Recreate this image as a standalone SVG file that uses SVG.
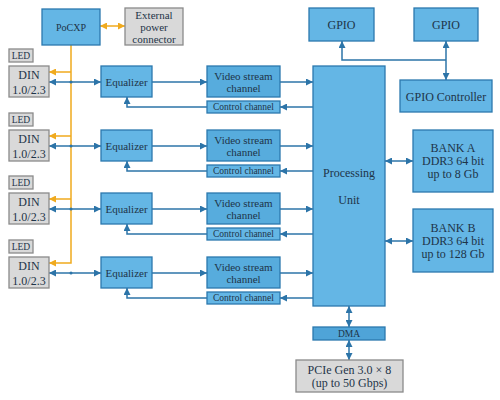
<svg xmlns="http://www.w3.org/2000/svg" width="500" height="400" viewBox="0 0 500 400">
<defs>
<style>
text{font-family:"Liberation Serif","DejaVu Serif",serif;fill:#1E3448;text-anchor:middle;dominant-baseline:central}
.b{fill:#64B6E5;stroke:#2B79AE;stroke-width:1.3}
.v{fill:#57ACDD;stroke:#2B79AE;stroke-width:1.3}
.d{fill:#4FA4D8;stroke:#2B79AE;stroke-width:1.3}
.g{fill:#D9D9D9;stroke:#8A8A8A;stroke-width:1.3}
.bl{fill:none;stroke:#2C74A8;stroke-width:1.5}
.yl{fill:none;stroke:#F0AA1E;stroke-width:1.5}
.f12{font-size:12px}.f11{font-size:11px}.f10{font-size:10px}.f9{font-size:9.5px}
</style>
<marker id="ab" viewBox="0 0 10 10" refX="10" refY="5" markerWidth="7" markerHeight="7" markerUnits="userSpaceOnUse" orient="auto-start-reverse"><path d="M0,0 L10,5 L0,10 Z" fill="#2C74A8"/></marker>
<marker id="ay" viewBox="0 0 10 10" refX="10" refY="5" markerWidth="7" markerHeight="7" markerUnits="userSpaceOnUse" orient="auto-start-reverse"><path d="M0,0 L10,5 L0,10 Z" fill="#F0AA1E"/></marker>
</defs>
<rect width="500" height="400" fill="#fff"/>

<g id="connectors">
<!-- yellow power -->
<line class="yl" x1="100" y1="26" x2="125" y2="26" marker-start="url(#ay)" marker-end="url(#ay)"/>
<path class="yl" d="M71,45 V263 H49" marker-end="url(#ay)"/>
<line class="yl" x1="71" y1="72" x2="49" y2="72" marker-end="url(#ay)"/>
<line class="yl" x1="71" y1="136" x2="49" y2="136" marker-end="url(#ay)"/>
<line class="yl" x1="71" y1="199" x2="49" y2="199" marker-end="url(#ay)"/>
<!-- rows -->
<g id="row1c">
<line class="bl" x1="49" y1="82" x2="101" y2="82" marker-start="url(#ab)" marker-end="url(#ab)"/>
<circle cx="71" cy="82" r="1.5" fill="#2C74A8"/>
<line class="bl" x1="152" y1="82" x2="207" y2="82" marker-end="url(#ab)"/>
<line class="bl" x1="280" y1="82" x2="313" y2="82" marker-end="url(#ab)"/>
<line class="bl" x1="313" y1="107" x2="280" y2="107" marker-end="url(#ab)"/>
<path class="bl" d="M207,107 H127 V97" marker-end="url(#ab)"/>
</g>
<g id="row2c">
<line class="bl" x1="49" y1="146" x2="101" y2="146" marker-start="url(#ab)" marker-end="url(#ab)"/>
<circle cx="71" cy="146" r="1.5" fill="#2C74A8"/>
<line class="bl" x1="152" y1="146" x2="207" y2="146" marker-end="url(#ab)"/>
<line class="bl" x1="280" y1="146" x2="313" y2="146" marker-end="url(#ab)"/>
<line class="bl" x1="313" y1="171" x2="280" y2="171" marker-end="url(#ab)"/>
<path class="bl" d="M207,171 H127 V161" marker-end="url(#ab)"/>
</g>
<g id="row3c">
<line class="bl" x1="49" y1="209" x2="101" y2="209" marker-start="url(#ab)" marker-end="url(#ab)"/>
<circle cx="71" cy="209" r="1.5" fill="#2C74A8"/>
<line class="bl" x1="152" y1="209" x2="207" y2="209" marker-end="url(#ab)"/>
<line class="bl" x1="280" y1="209" x2="313" y2="209" marker-end="url(#ab)"/>
<line class="bl" x1="313" y1="234" x2="280" y2="234" marker-end="url(#ab)"/>
<path class="bl" d="M207,234 H127 V224" marker-end="url(#ab)"/>
</g>
<g id="row4c">
<line class="bl" x1="49" y1="273" x2="101" y2="273" marker-start="url(#ab)" marker-end="url(#ab)"/>
<circle cx="71" cy="273" r="1.5" fill="#2C74A8"/>
<line class="bl" x1="152" y1="273" x2="207" y2="273" marker-end="url(#ab)"/>
<line class="bl" x1="280" y1="273" x2="313" y2="273" marker-end="url(#ab)"/>
<line class="bl" x1="313" y1="298" x2="280" y2="298" marker-end="url(#ab)"/>
<path class="bl" d="M207,298 H127 V288" marker-end="url(#ab)"/>
</g>
<!-- GPIO -->
<path class="bl" d="M446,60 H342 V41" marker-end="url(#ab)"/>
<line class="bl" x1="446" y1="41" x2="446" y2="80" marker-start="url(#ab)" marker-end="url(#ab)"/>
<!-- banks -->
<line class="bl" x1="385" y1="161" x2="413" y2="161" marker-start="url(#ab)" marker-end="url(#ab)"/>
<line class="bl" x1="385" y1="241" x2="413" y2="241" marker-start="url(#ab)" marker-end="url(#ab)"/>
<!-- DMA / PCIe -->
<line class="bl" x1="349" y1="306" x2="349" y2="327" marker-start="url(#ab)" marker-end="url(#ab)"/>
<line class="bl" x1="349" y1="340" x2="349" y2="360" marker-start="url(#ab)" marker-end="url(#ab)"/>
</g>

<g id="pocxp"><rect class="b" x="42" y="9" width="58" height="36"/><text class="f10" x="71" y="27">PoCXP</text></g>
<g id="extpower"><rect class="g" x="125" y="8" width="58" height="37"/><text class="f11" x="154" y="15">External</text><text class="f11" x="154" y="27">power</text><text class="f11" x="154" y="39">connector</text></g>

<g id="row1">
<g id="led1"><rect class="g" x="9" y="49" width="24" height="13"/><text class="f9" x="21" y="55.5">LED</text></g>
<g id="din1"><rect class="g" x="9" y="66" width="40" height="31"/><text class="f12" x="29" y="75">DIN</text><text class="f12" x="29" y="90">1.0/2.3</text></g>
<g id="eq1"><rect class="b" x="101" y="66" width="51" height="31"/><text class="f11" x="126.5" y="81.5">Equalizer</text></g>
<g id="vs1"><rect class="v" x="207" y="66" width="73" height="31"/><text class="f11" x="243.5" y="75.5">Video stream</text><text class="f11" x="243.5" y="87.5">channel</text></g>
<g id="cc1"><rect class="b" x="207" y="101" width="73" height="12"/><text class="f9" x="243.5" y="107">Control channel</text></g>
</g>
<g id="row2">
<g id="led2"><rect class="g" x="9" y="113" width="24" height="13"/><text class="f9" x="21" y="119.5">LED</text></g>
<g id="din2"><rect class="g" x="9" y="130" width="40" height="31"/><text class="f12" x="29" y="139">DIN</text><text class="f12" x="29" y="154">1.0/2.3</text></g>
<g id="eq2"><rect class="b" x="101" y="130" width="51" height="31"/><text class="f11" x="126.5" y="145.5">Equalizer</text></g>
<g id="vs2"><rect class="v" x="207" y="130" width="73" height="31"/><text class="f11" x="243.5" y="139.5">Video stream</text><text class="f11" x="243.5" y="151.5">channel</text></g>
<g id="cc2"><rect class="b" x="207" y="165" width="73" height="12"/><text class="f9" x="243.5" y="171">Control channel</text></g>
</g>
<g id="row3">
<g id="led3"><rect class="g" x="9" y="176" width="24" height="13"/><text class="f9" x="21" y="182.5">LED</text></g>
<g id="din3"><rect class="g" x="9" y="193" width="40" height="31"/><text class="f12" x="29" y="202">DIN</text><text class="f12" x="29" y="217">1.0/2.3</text></g>
<g id="eq3"><rect class="b" x="101" y="193" width="51" height="31"/><text class="f11" x="126.5" y="208.5">Equalizer</text></g>
<g id="vs3"><rect class="v" x="207" y="193" width="73" height="31"/><text class="f11" x="243.5" y="202.5">Video stream</text><text class="f11" x="243.5" y="214.5">channel</text></g>
<g id="cc3"><rect class="b" x="207" y="228" width="73" height="12"/><text class="f9" x="243.5" y="234">Control channel</text></g>
</g>
<g id="row4">
<g id="led4"><rect class="g" x="9" y="240" width="24" height="13"/><text class="f9" x="21" y="246.5">LED</text></g>
<g id="din4"><rect class="g" x="9" y="257" width="40" height="31"/><text class="f12" x="29" y="266">DIN</text><text class="f12" x="29" y="281">1.0/2.3</text></g>
<g id="eq4"><rect class="b" x="101" y="257" width="51" height="31"/><text class="f11" x="126.5" y="272.5">Equalizer</text></g>
<g id="vs4"><rect class="v" x="207" y="257" width="73" height="31"/><text class="f11" x="243.5" y="266.5">Video stream</text><text class="f11" x="243.5" y="278.5">channel</text></g>
<g id="cc4"><rect class="b" x="207" y="292" width="73" height="12"/><text class="f9" x="243.5" y="298">Control channel</text></g>
</g>

<g id="processing"><rect class="b" x="313" y="66" width="72" height="240"/><text class="f12" x="349" y="173">Processing</text><text class="f12" x="349" y="200">Unit</text></g>
<g id="gpio1"><rect class="b" x="309" y="8" width="65" height="33"/><text class="f12" x="341.5" y="25">GPIO</text></g>
<g id="gpio2"><rect class="b" x="414" y="8" width="64" height="33"/><text class="f12" x="446" y="25">GPIO</text></g>
<g id="gpioctrl"><rect class="b" x="400" y="80" width="92" height="32"/><text class="f12" x="446" y="96.5">GPIO Controller</text></g>
<g id="banka"><rect class="b" x="413" y="130" width="80" height="62"/><text class="f12" x="453" y="148">BANK A</text><text class="f12" x="453" y="161">DDR3 64 bit</text><text class="f12" x="453" y="174">up to 8 Gb</text></g>
<g id="bankb"><rect class="b" x="413" y="209" width="80" height="63"/><text class="f12" x="453" y="228">BANK B</text><text class="f12" x="453" y="241">DDR3 64 bit</text><text class="f12" x="453" y="254">up to 128 Gb</text></g>
<g id="dma"><rect class="d" x="313" y="327" width="72" height="13"/><text class="f9" x="349" y="333.5">DMA</text></g>
<g id="pcie"><rect class="g" x="296" y="360" width="107" height="32"/><text class="f12" x="349.5" y="370">PCIe Gen 3.0 × 8</text><text class="f12" x="349.5" y="383">(up to 50 Gbps)</text></g>
</svg>
